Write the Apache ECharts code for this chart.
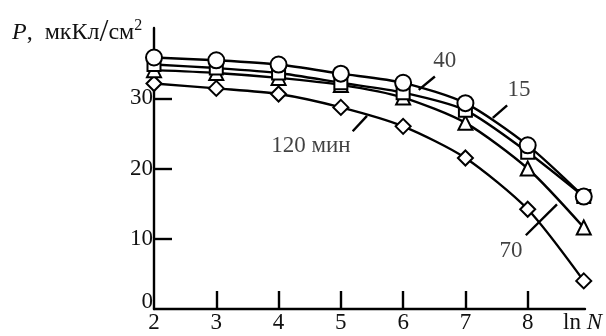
<!DOCTYPE html>
<html>
<head>
<meta charset="utf-8">
<script src="https://cdn.jsdelivr.net/npm/echarts@6/dist/echarts.min.js"></script>
<style>html,body{margin:0;padding:0;background:#fff;}#c{width:606px;height:336px;}</style>
</head>
<body>
<div id="c"></div>
<script>
var lnN = [2, 3, 4, 5, 6, 7, 8, 8.9];
var p40 = [35.8, 35.4, 34.8, 33.5, 32.2, 29.3, 23.3, 16.0];
var p15 = [34.8, 34.3, 33.6, 32.2, 30.8, 28.3, 22.3, 16.0];
var p70 = [34.0, 33.6, 32.9, 31.9, 30.1, 26.5, 20.0, 11.6];
var p120 = [32.1, 31.4, 30.6, 28.7, 26.0, 21.5, 14.2, 4.0];
var xTickLabels = [2, 3, 4, 5, 6, 7, 8];
var yTickLabels = [0, 10, 20, 30];
var curveNames = ['40', '15', '70', '120 мин'];
var labelPos = [[6.67, 35.3], [7.86, 31.2], [7.73, 8.3], [4.52, 23.2]];
var leaders = [
  [[6.51, 33.1], [6.25, 31.2]],
  [[7.67, 29.0], [7.44, 27.2]],
  [[7.97, 10.5], [8.47, 14.9]],
  [[5.19, 25.3], [5.42, 27.5]]
];

function pairs(ys) { return lnN.map(function (x, i) { return [x, ys[i]]; }); }
var FONT = 'Liberation Serif';
var INK = '#000';
function curve(ys, symbol, size) {
  return {
    type: 'line', data: pairs(ys), smooth: 0.25, symbol: symbol, symbolSize: size,
    showAllSymbol: true,
    lineStyle: { color: INK, width: 2.4 },
    itemStyle: { color: '#fff', borderColor: INK, borderWidth: 2 },
    z: 3
  };
}
var chart = echarts.init(document.getElementById('c'), null, { renderer: 'canvas' });
chart.setOption({
  animation: false,
  backgroundColor: '#fff',
  grid: { left: 154, right: 21, top: 28, bottom: 27 },
  xAxis: {
    type: 'value', min: 2, max: 8.92,
    axisLine: { lineStyle: { color: INK, width: 2.4 } },
    splitLine: { show: false },
    axisTick: { show: true, inside: true, length: 18, lineStyle: { color: INK, width: 2.4 }, customValues: xTickLabels.slice(1) },
    axisLabel: { customValues: xTickLabels, fontFamily: FONT, fontSize: 23, color: '#111', margin: 2 }
  },
  yAxis: {
    type: 'value', min: 0, max: 40,
    axisLine: { show: true, lineStyle: { color: INK, width: 2.4 } },
    splitLine: { show: false },
    axisTick: { show: true, inside: true, length: 18, lineStyle: { color: INK, width: 2.4 }, customValues: yTickLabels.slice(1) },
    axisLabel: {
      customValues: yTickLabels, fontFamily: FONT, fontSize: 23, color: '#111', margin: 1,
      formatter: function (v) { return v === 0 ? '{z|0}' : String(v); },
      rich: { z: { fontFamily: FONT, fontSize: 23, color: '#111', padding: [0, 0, 14, 0] } }
    }
  },
  series: [
    curve(p120, 'diamond', 15),
    curve(p70, 'triangle', 14),
    curve(p15, 'rect', 13),
    curve(p40, 'circle', 16),
    {
      type: 'lines', coordinateSystem: 'cartesian2d', polyline: false,
      data: leaders.map(function (c) { return { coords: c }; }),
      lineStyle: { color: INK, width: 2.4, opacity: 1 }, z: 4
    },
    {
      type: 'scatter', symbolSize: 0,
      data: labelPos.map(function (p, i) { return { value: p, name: curveNames[i] }; }),
      label: { show: true, position: 'inside', formatter: '{b}', fontFamily: FONT, fontSize: 23, color: '#111' },
      z: 5
    }
  ],
  graphic: [
    {
      type: 'text', left: 12, top: 17,
      style: {
        text: '{i|P}{n|,  мкКл}{s|/}{n|см}{sup|2}',
        rich: {
          i: { fontFamily: FONT, fontStyle: 'italic', fontSize: 24, fill: '#111' },
          n: { fontFamily: FONT, fontSize: 24, fill: '#111' },
          s: { fontFamily: FONT, fontSize: 32, fill: '#111' },
          sup: { fontFamily: FONT, fontSize: 16, fill: '#111', padding: [0, 0, 15, 0] }
        }
      }
    },
    {
      type: 'text', left: 563, top: 311,
      style: {
        text: '{n|ln }{i|N}',
        rich: {
          i: { fontFamily: FONT, fontStyle: 'italic', fontSize: 23, fill: '#111' },
          n: { fontFamily: FONT, fontSize: 23, fill: '#111' }
        }
      }
    }
  ]
});
</script>
</body>
</html>
